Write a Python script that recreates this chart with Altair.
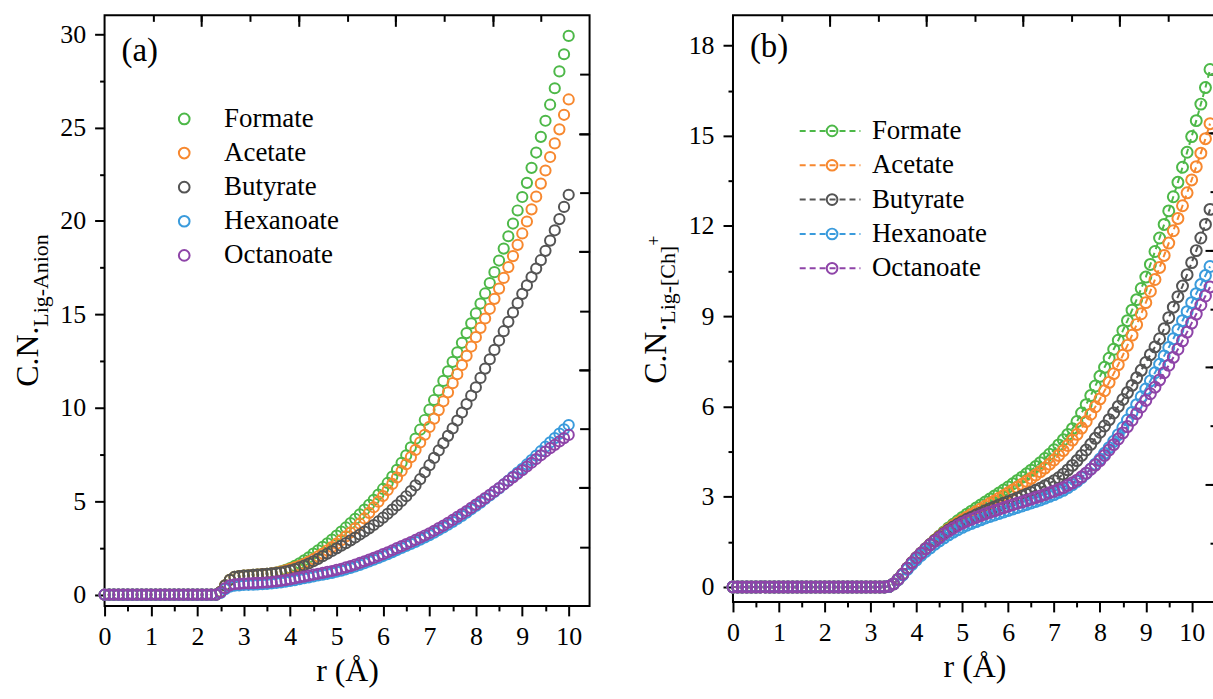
import altair as alt
import pandas as pd

FONT = "Liberation Serif"
names = ["Formate", "Acetate", "Butyrate", "Hexanoate", "Octanoate"]
colors = ["#4DB848", "#F7882F", "#545454", "#3A9BDC", "#8E44A8"]

# ---------------- panel (a): r from 0 to 10 step 0.1 ----------------
r_a = [0.0, 0.1, 0.2, 0.3, 0.4, 0.5, 0.6, 0.7, 0.8, 0.9,
       1.0, 1.1, 1.2, 1.3, 1.4, 1.5, 1.6, 1.7, 1.8, 1.9,
       2.0, 2.1, 2.2, 2.3, 2.4, 2.5, 2.6, 2.7, 2.8, 2.9,
       3.0, 3.1, 3.2, 3.3, 3.4, 3.5, 3.6, 3.7, 3.8, 3.9,
       4.0, 4.1, 4.2, 4.3, 4.4, 4.5, 4.6, 4.7, 4.8, 4.9,
       5.0, 5.1, 5.2, 5.3, 5.4, 5.5, 5.6, 5.7, 5.8, 5.9,
       6.0, 6.1, 6.2, 6.3, 6.4, 6.5, 6.6, 6.7, 6.8, 6.9,
       7.0, 7.1, 7.2, 7.3, 7.4, 7.5, 7.6, 7.7, 7.8, 7.9,
       8.0, 8.1, 8.2, 8.3, 8.4, 8.5, 8.6, 8.7, 8.8, 8.9,
       9.0, 9.1, 9.2, 9.3, 9.4, 9.5, 9.6, 9.7, 9.8, 9.9,
       10.0]

formate_a = [0, 0, 0, 0, 0, 0, 0, 0, 0, 0,
             0, 0, 0, 0, 0, 0, 0, 0, 0, 0,
             0, 0, 0, 0, 0, 0.15, 0.5, 0.8, 0.95, 1.0,
             1.02, 1.04, 1.06, 1.08, 1.1, 1.12, 1.15, 1.19, 1.25, 1.33,
             1.42, 1.54, 1.68, 1.84, 2.0, 2.2, 2.38, 2.56, 2.75, 2.95,
             3.16, 3.38, 3.6, 3.83, 4.06, 4.3, 4.55, 4.81, 5.08, 5.36,
             5.66, 5.98, 6.32, 6.68, 7.06, 7.46, 7.89, 8.35, 8.83, 9.35,
             9.9, 10.42, 10.93, 11.44, 11.95, 12.46, 12.97, 13.48, 14.0, 14.52,
             15.05, 15.58, 16.12, 16.68, 17.26, 17.88, 18.52, 19.18, 19.86, 20.56,
             21.28, 22.04, 22.84, 23.66, 24.5, 25.36, 26.22, 27.1, 28.0, 28.92,
             29.9]
acetate_a = [0, 0, 0, 0, 0, 0, 0, 0, 0, 0,
             0, 0, 0, 0, 0, 0, 0, 0, 0, 0,
             0, 0, 0, 0, 0, 0.15, 0.5, 0.8, 0.95, 1.0,
             1.02, 1.04, 1.06, 1.08, 1.1, 1.12, 1.15, 1.19, 1.24, 1.3,
             1.38, 1.46, 1.55, 1.65, 1.77, 1.9, 2.05, 2.2, 2.37, 2.55,
             2.73, 2.92, 3.12, 3.33, 3.55, 3.8, 4.08, 4.38, 4.68, 4.98,
             5.28, 5.6, 5.93, 6.27, 6.62, 6.98, 7.36, 7.75, 8.15, 8.56,
             8.98, 9.42, 9.88, 10.35, 10.83, 11.32, 11.8, 12.29, 12.78, 13.28,
             13.78, 14.28, 14.78, 15.3, 15.83, 16.38, 16.95, 17.53, 18.12, 18.72,
             19.33, 19.97, 20.62, 21.3, 22.0, 22.7, 23.42, 24.15, 24.9, 25.68,
             26.5]
butyrate_a = [0, 0, 0, 0, 0, 0, 0, 0, 0, 0,
              0, 0, 0, 0, 0, 0, 0, 0, 0, 0,
              0, 0, 0, 0, 0, 0.15, 0.5, 0.8, 0.95, 1.0,
              1.02, 1.04, 1.06, 1.08, 1.1, 1.12, 1.14, 1.17, 1.2, 1.25,
              1.3, 1.37, 1.46, 1.56, 1.67, 1.79, 1.92, 2.06, 2.2, 2.34,
              2.48, 2.62, 2.76, 2.91, 3.06, 3.22, 3.38, 3.55, 3.73, 3.92,
              4.12, 4.33, 4.55, 4.78, 5.02, 5.27, 5.55, 5.85, 6.18, 6.55,
              6.93, 7.32, 7.72, 8.11, 8.5, 8.9, 9.32, 9.75, 10.2, 10.65,
              11.1, 11.6, 12.1, 12.6, 13.1, 13.6, 14.1, 14.6, 15.1, 15.6,
              16.1, 16.55, 17.0, 17.45, 17.9, 18.4, 18.95, 19.5, 20.1, 20.75,
              21.4]
hexanoate_a = [0, 0, 0, 0, 0, 0, 0, 0, 0, 0,
               0, 0, 0, 0, 0, 0, 0, 0, 0, 0,
               0, 0, 0, 0, 0, 0.1, 0.3, 0.43, 0.48, 0.5,
               0.52, 0.53, 0.54, 0.55, 0.56, 0.58, 0.6, 0.63, 0.66, 0.7,
               0.74, 0.78, 0.83, 0.88, 0.93, 0.98, 1.03, 1.07, 1.12, 1.17,
               1.23, 1.29, 1.36, 1.43, 1.51, 1.6, 1.69, 1.78, 1.87, 1.97,
               2.07, 2.17, 2.28, 2.39, 2.5, 2.61, 2.72, 2.83, 2.95, 3.07,
               3.19, 3.32, 3.46, 3.6, 3.75, 3.9, 4.06, 4.22, 4.39, 4.57,
               4.75, 4.93, 5.12, 5.31, 5.5, 5.69, 5.9, 6.11, 6.32, 6.53,
               6.74, 6.97, 7.2, 7.44, 7.68, 7.92, 8.15, 8.38, 8.62, 8.85,
               9.08]
octanoate_a = [0, 0, 0, 0, 0, 0, 0, 0, 0, 0,
               0, 0, 0, 0, 0, 0, 0, 0, 0, 0,
               0, 0, 0, 0, 0, 0.12, 0.35, 0.5, 0.56, 0.58,
               0.6, 0.61, 0.62, 0.63, 0.64, 0.66, 0.68, 0.71, 0.74, 0.78,
               0.82, 0.87, 0.92, 0.97, 1.02, 1.07, 1.12, 1.17, 1.22, 1.27,
               1.33, 1.39, 1.46, 1.53, 1.61, 1.7, 1.79, 1.88, 1.97, 2.07,
               2.17, 2.27, 2.38, 2.49, 2.6, 2.71, 2.82, 2.93, 3.05, 3.17,
               3.29, 3.42, 3.56, 3.7, 3.85, 4.0, 4.16, 4.32, 4.48, 4.65,
               4.82, 4.99, 5.17, 5.35, 5.53, 5.71, 5.9, 6.09, 6.28, 6.47,
               6.66, 6.86, 7.06, 7.26, 7.46, 7.66, 7.84, 8.02, 8.2, 8.38,
               8.55]

# ---------------- panel (b): r from 0 to 10.4 step 0.1 ----------------
r_b = [0.0, 0.1, 0.2, 0.3, 0.4, 0.5, 0.6, 0.7, 0.8, 0.9,
       1.0, 1.1, 1.2, 1.3, 1.4, 1.5, 1.6, 1.7, 1.8, 1.9,
       2.0, 2.1, 2.2, 2.3, 2.4, 2.5, 2.6, 2.7, 2.8, 2.9,
       3.0, 3.1, 3.2, 3.3, 3.4, 3.5, 3.6, 3.7, 3.8, 3.9,
       4.0, 4.1, 4.2, 4.3, 4.4, 4.5, 4.6, 4.7, 4.8, 4.9,
       5.0, 5.1, 5.2, 5.3, 5.4, 5.5, 5.6, 5.7, 5.8, 5.9,
       6.0, 6.1, 6.2, 6.3, 6.4, 6.5, 6.6, 6.7, 6.8, 6.9,
       7.0, 7.1, 7.2, 7.3, 7.4, 7.5, 7.6, 7.7, 7.8, 7.9,
       8.0, 8.1, 8.2, 8.3, 8.4, 8.5, 8.6, 8.7, 8.8, 8.9,
       9.0, 9.1, 9.2, 9.3, 9.4, 9.5, 9.6, 9.7, 9.8, 9.9,
       10.0, 10.1, 10.2, 10.3, 10.4]

formate_b = [0, 0, 0, 0, 0, 0, 0, 0, 0, 0,
             0, 0, 0, 0, 0, 0, 0, 0, 0, 0,
             0, 0, 0, 0, 0, 0, 0, 0, 0, 0,
             0, 0, 0, 0, 0.02, 0.1, 0.25, 0.42, 0.62, 0.8,
             0.97, 1.12, 1.27, 1.41, 1.55, 1.69, 1.83, 1.96, 2.08, 2.2,
             2.31, 2.42, 2.52, 2.62, 2.72, 2.82, 2.92, 3.02, 3.12, 3.22,
             3.32, 3.43, 3.54, 3.65, 3.76, 3.88, 4.0, 4.13, 4.27, 4.41,
             4.56, 4.72, 4.89, 5.07, 5.26, 5.5, 5.78, 6.06, 6.36, 6.68,
             7.0, 7.3, 7.6, 7.9, 8.2, 8.52, 8.85, 9.2, 9.55, 9.92,
             10.3, 10.72, 11.15, 11.6, 12.05, 12.5, 12.97, 13.45, 13.95, 14.45,
             14.97, 15.5, 16.05, 16.6, 17.2]
acetate_b = [0, 0, 0, 0, 0, 0, 0, 0, 0, 0,
             0, 0, 0, 0, 0, 0, 0, 0, 0, 0,
             0, 0, 0, 0, 0, 0, 0, 0, 0, 0,
             0, 0, 0, 0, 0.02, 0.1, 0.25, 0.42, 0.62, 0.8,
             0.97, 1.12, 1.27, 1.41, 1.55, 1.68, 1.8, 1.92, 2.03, 2.13,
             2.23, 2.32, 2.41, 2.5, 2.59, 2.68, 2.77, 2.86, 2.95, 3.04,
             3.13, 3.22, 3.31, 3.41, 3.51, 3.61, 3.72, 3.83, 3.95, 4.08,
             4.22, 4.37, 4.53, 4.7, 4.88, 5.07, 5.28, 5.5, 5.74, 5.99,
             6.25, 6.52, 6.8, 7.09, 7.39, 7.7, 8.03, 8.37, 8.72, 9.08,
             9.45, 9.83, 10.22, 10.62, 11.02, 11.43, 11.84, 12.25, 12.67, 13.1,
             13.53, 13.97, 14.42, 14.9, 15.4]
butyrate_b = [0, 0, 0, 0, 0, 0, 0, 0, 0, 0,
              0, 0, 0, 0, 0, 0, 0, 0, 0, 0,
              0, 0, 0, 0, 0, 0, 0, 0, 0, 0,
              0, 0, 0, 0, 0.02, 0.1, 0.25, 0.42, 0.62, 0.8,
              0.97, 1.12, 1.27, 1.41, 1.54, 1.66, 1.78, 1.89, 1.99, 2.08,
              2.17, 2.25, 2.32, 2.39, 2.46, 2.53, 2.6, 2.66, 2.72, 2.78,
              2.84, 2.9, 2.96, 3.02, 3.08, 3.14, 3.21, 3.28, 3.36, 3.44,
              3.53, 3.63, 3.75, 3.89, 4.04, 4.2, 4.37, 4.55, 4.74, 4.94,
              5.14, 5.35, 5.56, 5.78, 6.0, 6.23, 6.46, 6.7, 6.95, 7.2,
              7.46, 7.72, 7.98, 8.25, 8.58, 8.95, 9.3, 9.65, 10.0, 10.38,
              10.78, 11.18, 11.6, 12.05, 12.55]
hexanoate_b = [0, 0, 0, 0, 0, 0, 0, 0, 0, 0,
               0, 0, 0, 0, 0, 0, 0, 0, 0, 0,
               0, 0, 0, 0, 0, 0, 0, 0, 0, 0,
               0, 0, 0, 0, 0.02, 0.1, 0.24, 0.4, 0.58, 0.75,
               0.9, 1.05, 1.18, 1.3, 1.42, 1.53, 1.63, 1.73, 1.82, 1.9,
               1.98, 2.05, 2.11, 2.17, 2.23, 2.29, 2.34, 2.39, 2.44, 2.49,
               2.54, 2.59, 2.64, 2.69, 2.74, 2.79, 2.84, 2.89, 2.95, 3.01,
               3.07, 3.14, 3.21, 3.3, 3.4, 3.51, 3.63, 3.77, 3.92, 4.08,
               4.25, 4.44, 4.63, 4.84, 5.06, 5.3, 5.55, 5.8, 6.06, 6.32,
               6.58, 6.85, 7.12, 7.4, 7.68, 7.96, 8.25, 8.55, 8.85, 9.15,
               9.45, 9.75, 10.05, 10.35, 10.65]
octanoate_b = [0, 0, 0, 0, 0, 0, 0, 0, 0, 0,
               0, 0, 0, 0, 0, 0, 0, 0, 0, 0,
               0, 0, 0, 0, 0, 0, 0, 0, 0, 0,
               0, 0, 0, 0, 0.02, 0.1, 0.25, 0.42, 0.62, 0.8,
               0.97, 1.12, 1.27, 1.4, 1.52, 1.64, 1.76, 1.86, 1.95, 2.04,
               2.12, 2.19, 2.25, 2.31, 2.37, 2.43, 2.48, 2.53, 2.58, 2.63,
               2.68, 2.73, 2.78, 2.82, 2.87, 2.92, 2.97, 3.02, 3.07, 3.13,
               3.18, 3.24, 3.3, 3.38, 3.46, 3.55, 3.66, 3.78, 3.91, 4.05,
               4.2, 4.37, 4.55, 4.73, 4.92, 5.12, 5.33, 5.54, 5.76, 5.98,
               6.2, 6.42, 6.64, 6.88, 7.12, 7.37, 7.63, 7.9, 8.18, 8.47,
               8.77, 9.07, 9.37, 9.67, 9.97]

# tick values
x_major = [0, 1, 2, 3, 4, 5, 6, 7, 8, 9, 10]
x_minor = [0.5, 1.5, 2.5, 3.5, 4.5, 5.5, 6.5, 7.5, 8.5, 9.5, 10.5]
ya_major = [0, 5, 10, 15, 20, 25, 30]
ya_minor = [2.5, 7.5, 12.5, 17.5, 22.5, 27.5]
yb_major = [0, 3, 6, 9, 12, 15, 18]
yb_minor = [1.5, 4.5, 7.5, 10.5, 13.5, 16.5]
edge_all = [1, 2, 3, 4, 5, 6, 7, 8, 9]
edge_even = [2, 4, 6, 8]


def make_df(r, series):
    rows = []
    for name, vals in zip(names, series):
        assert len(vals) == len(r), f"{name}: {len(vals)} vs {len(r)}"
        rows += [{"r": x, "cn": v, "series": name} for x, v in zip(r, vals)]
    return pd.DataFrame(rows)


df_a = make_df(r_a, [formate_a, acetate_a, butyrate_a, hexanoate_a, octanoate_a])
df_b = make_df(r_b, [formate_b, acetate_b, butyrate_b, hexanoate_b, octanoate_b])


def ax(values, size, labels=True, orient=None, offset=None, title=None, pad=9):
    kw = dict(values=values, tickSize=size, tickWidth=2, tickColor="black",
              domain=False, grid=False, labels=labels, ticks=True)
    if labels:
        kw.update(labelFont=FONT, labelFontSize=26, labelColor="black",
                  labelPadding=pad, labelFlush=False)
    if orient:
        kw["orient"] = orient
    if offset is not None:
        kw["offset"] = offset
    if title:
        kw.update(title=title, titleFont=FONT, titleFontSize=32,
                  titleFontWeight="normal", titleColor="black", titlePadding=6)
    else:
        kw["title"] = None
    return alt.Axis(**kw)


def sc(dom):
    return alt.Scale(domain=dom, nice=False, zero=False)


def txt(s, x, y, size, angle=None):
    kw = dict(font=FONT, fontSize=size, color="black", align="left", baseline="alphabetic")
    if angle is not None:
        kw["angle"] = angle
    return alt.Chart(pd.DataFrame({"t": [s]})).mark_text(**kw).encode(
        x=alt.value(x), y=alt.value(y), text="t:N")


color_enc = alt.Color("series:N", scale=alt.Scale(domain=names, range=colors), legend=None)
dummy = pd.DataFrame({"u": [0.0]})
leg_df = pd.DataFrame({"series": names})


def panel(df, W, H, xdom, ydom, ymaj, ymin, right_short, dashed,
          label, label_xy, titles, leg_range, leg_x):
    base = alt.Chart(df).encode(
        x=alt.X("r:Q", scale=sc(xdom), axis=ax(x_major, 10, title="r (Å)", pad=8)),
        y=alt.Y("cn:Q", scale=sc(ydom), axis=ax(ymaj, 10, pad=9)),
        color=color_enc,
    )
    if dashed:
        data_layer = alt.layer(
            base.mark_line(strokeWidth=2, strokeDash=[6, 4]),
            base.mark_point(filled=False, size=121, strokeWidth=2, opacity=1),
        )
    else:
        data_layer = base.mark_point(filled=False, size=105, strokeWidth=2, opacity=1)

    minor = alt.Chart(dummy).mark_point(opacity=0).encode(
        x=alt.X("u:Q", scale=sc(xdom), axis=ax([v for v in x_minor if v < xdom[1]], 5,
                                                 labels=False, orient="bottom")),
        y=alt.Y("u:Q", scale=sc(ydom), axis=ax(ymin, 5, labels=False, orient="left")),
    )
    short = alt.Chart(dummy).mark_point(opacity=0).encode(
        x=alt.X("u:Q", scale=sc([0, 10]),
                axis=ax(edge_all, 6, labels=False, orient="bottom", offset=-H)),
        y=alt.Y("u:Q", scale=sc([0, 10]),
                axis=ax(edge_all, right_short, labels=False, orient="left", offset=-W)),
    )
    long_ = alt.Chart(dummy).mark_point(opacity=0).encode(
        x=alt.X("u:Q", scale=sc([0, 10]),
                axis=ax(edge_even, 11, labels=False, orient="bottom", offset=-H)),
        y=alt.Y("u:Q", scale=sc([0, 10]),
                axis=ax(edge_even, 11, labels=False, orient="left", offset=-W)),
    )
    layers = [data_layer, minor, short, long_]
    layers.append(txt(label, label_xy[0], label_xy[1], 33))
    for s, x, y, size in titles:
        layers.append(txt(s, x, y, size, angle=270))

    ly = alt.Y("series:N", scale=alt.Scale(type="point", domain=names, range=leg_range, padding=0), axis=None)
    lb = alt.Chart(leg_df)
    if dashed:
        layers.append(lb.mark_rule(strokeWidth=2, strokeDash=[6, 4]).encode(
            x=alt.value(leg_x[0]), x2=alt.value(leg_x[1]), y=ly, color=color_enc))
    layers.append(lb.mark_point(filled=False, size=115, strokeWidth=2, opacity=1).encode(
        x=alt.value(leg_x[2]), y=ly, color=color_enc))
    layers.append(lb.mark_text(font=FONT, fontSize=27, color="black", align="left",
                               baseline="middle").encode(
        x=alt.value(leg_x[3]), y=ly, text="series:N"))

    return alt.layer(*layers).resolve_scale(x="independent", y="independent").properties(
        width=W, height=H)


pa = panel(df_a, 487, 593, [0, 10.45], [-0.6, 31], ya_major, ya_minor, 10, False,
           "(a)", (17, 46),
           [("C.N.", -67, 373, 32), ("Lig-Anion", -57, 312.6, 22)],
           [104, 241], (0, 0, 80, 120))
pb = panel(df_b, 485, 589, [0, 10.53], [-0.5, 19], yb_major, yb_minor, 6, True,
           "(b)", (17, 42),
           [("C.N.", -67, 370, 32), ("Lig-[Ch]", -58, 309.6, 22), ("+", -73, 231.4, 18)],
           [116, 254], (67, 128, 99.5, 139.5))

chart = alt.hconcat(pa, pb, spacing=144, bounds="flush").configure_view(
    stroke="black", strokeWidth=2
).properties(padding={"left": 11, "top": 12, "right": -8, "bottom": 4})

chart.save("out.html", embed_options={"renderer": "svg", "actions": False})
